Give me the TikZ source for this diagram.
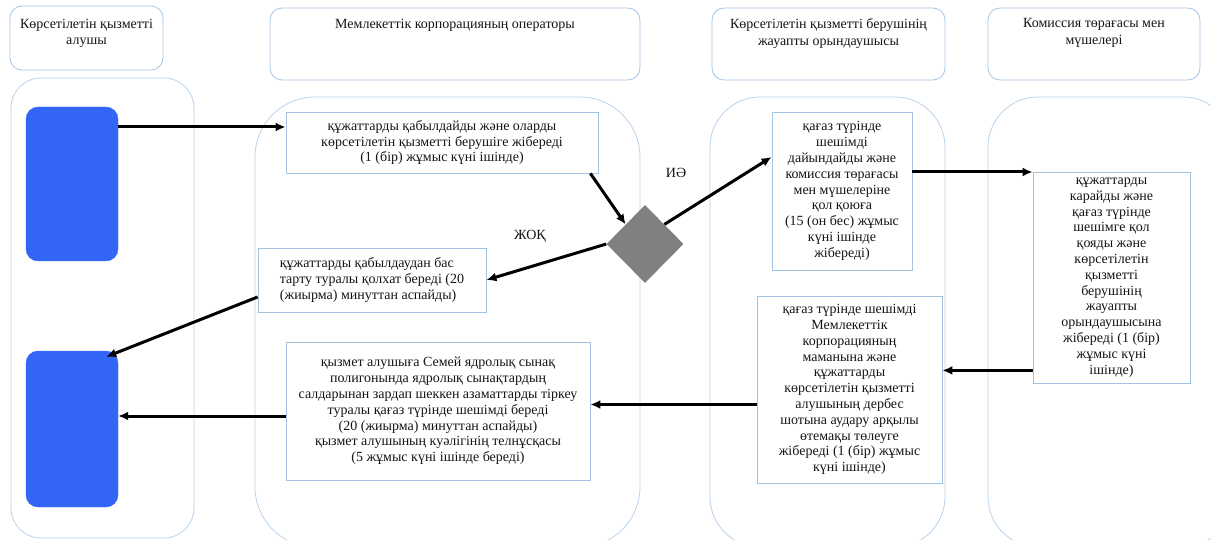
\documentclass[tikz,border=0pt]{standalone}
\usepackage{fontspec}
\setmainfont{Liberation Serif}
\usetikzlibrary{arrows.meta,shapes.geometric}
\definecolor{svcInk}{HTML}{141414}
\definecolor{svcEdge}{HTML}{A4C4E4}
\definecolor{svcLane}{HTML}{B8D2EC}
\definecolor{svcBlue}{HTML}{3366F6}
\definecolor{svcGray}{HTML}{808080}
\tikzset{
  svc/base/.style={draw=svcEdge, line width=0.8pt, align=center,
    font=\fontsize{14}{15.8}\selectfont, text=svcInk, inner sep=0pt},
  svc/lane/.style={draw=svcLane, line width=0.8pt, inner sep=0pt},
  svc/header/.style={svc/base, rounded corners=12pt},
  svc/title/.style={font=\fontsize{14}{16.5}\selectfont, text=svcInk,
    align=center, inner sep=0pt, anchor=north},
  svc/actor/.style={fill=svcBlue, draw=svcBlue, rounded corners=12pt,
    inner sep=0pt, minimum width=92pt},
  svc/step/.style={svc/base},
  svc/decision/.style={diamond, fill=svcGray, inner sep=0pt,
    minimum width=77pt, minimum height=78pt},
  svc/answer/.style={font=\fontsize{14}{15.8}\selectfont, text=svcInk,
    inner sep=0pt},
  svc/arrow/.style={-{Latex[length=10pt,width=9pt]}, draw=black,
    line width=3pt},
}

\begin{document}
\begin{tikzpicture}[x=1pt, y=-1pt]
\useasboundingbox (0,0) rectangle (1211,540);

\node[svc/lane, rounded corners=30pt, minimum width=183pt, minimum height=460pt]
  (laneRecipient) at (102.5,308) {};
\node[svc/lane, rounded corners=60pt, minimum width=385pt, minimum height=450pt]
  (laneOperator) at (447.5,322) {};
\node[svc/lane, rounded corners=50pt, minimum width=235pt, minimum height=450pt]
  (laneExecutor) at (827.5,322) {};
\node[svc/lane, rounded corners=50pt, minimum width=245pt, minimum height=450pt]
  (laneBoard) at (1110.5,322) {};

\node[svc/header, minimum width=153pt, minimum height=64pt] (hdrRecipient) at (86.5,38) {};
\node[svc/title] (hdrRecipientText) at ([yshift=-13pt]hdrRecipient.north)
  {Көрсетілетін қызметті\\алушы};
\node[svc/header, minimum width=370pt, minimum height=72pt] (hdrOperator) at (455,44) {};
\node[svc/title] (hdrOperatorText) at ([yshift=-11pt]hdrOperator.north)
  {Мемлекеттік корпорацияның операторы};
\node[svc/header, minimum width=233pt, minimum height=72pt] (hdrExecutor) at (828.5,44) {};
\node[svc/title] (hdrExecutorText) at ([yshift=-11pt]hdrExecutor.north)
  {Көрсетілетін қызметті берушінің\\жауапты орындаушысы};
\node[svc/header, minimum width=212pt, minimum height=72pt] (hdrBoard) at (1094,44) {};
\node[svc/title] (hdrBoardText) at ([yshift=-11pt]hdrBoard.north)
  {Комиссия төрағасы мен\\мүшелері};

\node[svc/actor, minimum height=154pt] (actorStart) at (72,184) {};
\node[svc/actor, minimum height=156pt] (actorEnd) at (72,429) {};

\node[svc/step, minimum width=312pt, minimum height=61pt] (stepAccept) at (442,142.5)
  {құжаттарды қабылдайды және оларды\\көрсетілетін қызметті берушіге жібереді\\(1 (бір) жұмыс күні ішінде)};
\node[svc/decision] (decCheck) at (645,244) {};
\node[svc/answer] (ansYes) at (676,173) {ИӘ};
\node[svc/answer] (ansNo) at (530,236) {ЖОҚ};
\node[svc/step, align=left, minimum width=228pt, minimum height=64pt] (stepRefuse) at (372,280)
  {құжаттарды қабылдаудан бас\\тарту туралы қолхат береді (20\\(жиырма) минуттан аспайды)};
\node[svc/step, minimum width=304pt, minimum height=138pt] (stepIssue) at (438,411)
  {қызмет алушыға Семей ядролық сынақ\\полигонында ядролық сынақтардың\\салдарынан зардап шеккен азаматтарды тіркеу\\туралы қағаз түрінде шешімді береді\\(20 (жиырма) минуттан аспайды)\\қызмет алушының куәлігінің телнұсқасы\\(5 жұмыс күні ішінде береді)};
\node[svc/step, minimum width=140pt, minimum height=158pt] (stepDraft) at (842,191)
  {қағаз түрінде\\шешімді\\дайындайды және\\комиссия төрағасы\\мен мүшелеріне\\қол қоюға\\(15 (он бес) жұмыс\\күні ішінде\\жібереді)};
\node[svc/step, minimum width=157pt, minimum height=211pt] (stepSign) at (1111.5,277.5)
  {құжаттарды\\карайды және\\қағаз түрінде\\шешімге қол\\қояды және\\көрсетілетін\\қызметті\\берушінің\\жауапты\\орындаушысына\\жібереді (1 (бір)\\жұмыс күні\\ішінде)};
\node[svc/step, minimum width=185pt, minimum height=187pt] (stepPay) at (849.5,389.5)
  {қағаз түрінде шешімді\\Мемлекеттік\\корпорацияның\\маманына және\\құжаттарды\\көрсетілетін қызметті\\алушының дербес\\шотына аудару арқылы\\өтемақы төлеуге\\жібереді (1 (бір) жұмыс\\күні ішінде)};

\draw[svc/arrow] (actorStart.east |- 0,127) -- ([yshift=15.5pt]stepAccept.west);
\draw[svc/arrow] ([xshift=-8pt]stepAccept.south east) -- (decCheck.north west);
\draw[svc/arrow] (decCheck.north east) -- ([yshift=34pt]stepDraft.west);
\draw[svc/arrow] (decCheck.west) -- (stepRefuse.east);
\draw[svc/arrow] ([yshift=-17pt]stepRefuse.west) -- ([xshift=-12pt,yshift=-6pt]actorEnd.north east);
\draw[svc/arrow] ([yshift=-5pt]stepIssue.west) -- ([yshift=-5pt]stepIssue.west -| actorEnd.east);
\draw[svc/arrow] ([yshift=19pt]stepDraft.east) -- ([yshift=19pt]stepDraft.east -| stepSign.west);
\draw[svc/arrow] ([yshift=13pt]stepSign.south west) -- ([yshift=13pt]stepSign.south west -| stepPay.east);
\draw[svc/arrow] ([yshift=-15pt]stepPay.west) -- ([yshift=-15pt]stepPay.west -| stepIssue.east);
\end{tikzpicture}
\end{document}
